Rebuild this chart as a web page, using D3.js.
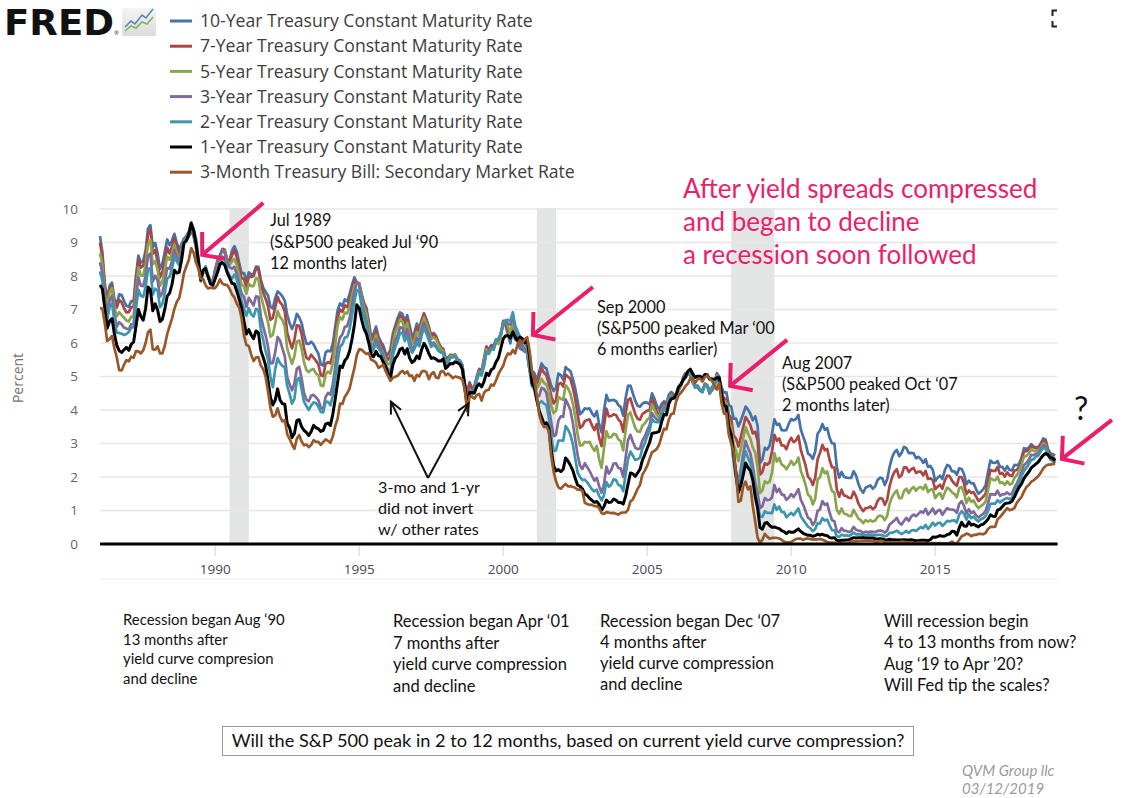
<!DOCTYPE html>
<html>
<head>
<meta charset="utf-8">
<script src="https://cdn.jsdelivr.net/npm/d3@7"></script>
<style>
  html, body { margin: 0; padding: 0; background: #fff; }
  svg { display: block; }
</style>
</head>
<body>
<div id="chart"></div>
<script>
// ---------------- DATA (monthly, Jan 1986 .. Mar 2019) ----------------
const startYear = 1986;

const seriesNames = [
  "10-Year Treasury Constant Maturity Rate",
  "7-Year Treasury Constant Maturity Rate",
  "5-Year Treasury Constant Maturity Rate",
  "3-Year Treasury Constant Maturity Rate",
  "2-Year Treasury Constant Maturity Rate",
  "1-Year Treasury Constant Maturity Rate",
  "3-Month Treasury Bill: Secondary Market Rate"
];
const seriesColors = ["#4572a7", "#aa4643", "#89a54e", "#80699b", "#3d96ae", "#000000", "#98592a"];

const gs10 = [
9.19,8.70,7.78,7.30,7.71,7.80,7.30,7.17,7.45,7.43,7.25,7.11,
7.08,7.25,7.25,8.02,8.61,8.40,8.45,8.76,9.42,9.52,8.86,8.99,
8.67,8.21,8.37,8.72,9.09,8.92,9.06,9.26,8.98,8.80,8.96,9.11,
9.09,9.17,9.36,9.18,8.86,8.28,8.02,8.11,8.19,8.01,7.87,7.84,
8.21,8.47,8.59,8.79,8.76,8.48,8.47,8.75,8.89,8.72,8.39,8.08,
8.09,7.85,8.11,8.04,8.07,8.28,8.27,7.90,7.65,7.53,7.42,7.09,
7.03,7.34,7.54,7.48,7.39,7.26,6.84,6.59,6.42,6.59,6.87,6.77,
6.60,6.26,5.98,5.97,6.04,5.96,5.81,5.68,5.36,5.33,5.72,5.77,
5.75,5.97,6.48,6.97,7.18,7.10,7.30,7.24,7.46,7.74,7.96,7.81,
7.78,7.47,7.20,7.06,6.63,6.17,6.28,6.49,6.20,6.04,5.93,5.71,
5.65,5.81,6.27,6.51,6.74,6.91,6.87,6.64,6.83,6.53,6.20,6.30,
6.58,6.42,6.69,6.89,6.71,6.49,6.22,6.30,6.21,6.03,5.88,5.81,
5.54,5.57,5.65,5.64,5.65,5.50,5.46,5.34,4.81,4.53,4.83,4.65,
4.72,5.00,5.23,5.18,5.54,5.90,5.79,5.94,5.92,6.11,6.03,6.28,
6.66,6.52,6.26,5.99,6.44,6.10,6.05,5.83,5.80,5.74,5.72,5.24,
5.16,5.10,4.89,5.14,5.39,5.28,5.24,4.97,4.73,4.57,4.65,5.09,
5.04,4.91,5.28,5.21,5.16,4.93,4.65,4.26,3.87,3.94,4.05,4.03,
4.05,3.90,3.81,3.96,3.57,3.33,3.98,4.45,4.27,4.29,4.30,4.27,
4.15,4.08,3.83,4.35,4.72,4.73,4.50,4.28,4.13,4.10,4.19,4.23,
4.22,4.17,4.50,4.34,4.14,4.00,4.18,4.26,4.20,4.46,4.54,4.47,
4.42,4.57,4.72,4.99,5.11,5.11,5.09,4.88,4.72,4.73,4.60,4.56,
4.76,4.72,4.56,4.69,4.75,5.10,5.00,4.67,4.52,4.53,4.15,4.10,
3.74,3.74,3.51,3.68,3.88,4.10,4.01,3.89,3.69,3.81,3.53,2.42,
2.52,2.87,2.82,2.93,3.29,3.72,3.56,3.59,3.40,3.39,3.40,3.59,
3.73,3.69,3.73,3.85,3.42,3.20,3.01,2.70,2.65,2.54,2.76,3.29,
3.39,3.58,3.41,3.46,3.17,3.00,3.00,2.30,1.98,2.15,2.01,1.98,
1.97,1.97,2.17,2.05,1.80,1.62,1.53,1.68,1.72,1.75,1.65,1.72,
1.91,1.98,1.96,1.76,1.93,2.30,2.58,2.74,2.81,2.62,2.72,2.90,
2.86,2.71,2.72,2.71,2.56,2.60,2.54,2.42,2.53,2.30,2.33,2.21,
1.88,1.98,2.04,1.94,2.20,2.36,2.32,2.17,2.17,2.07,2.26,2.24,
2.09,1.78,1.89,1.81,1.81,1.64,1.50,1.56,1.63,1.76,2.14,2.49,
2.43,2.42,2.48,2.30,2.30,2.19,2.32,2.21,2.20,2.36,2.35,2.40,
2.58,2.86,2.84,2.87,2.98,2.91,2.89,2.89,3.00,3.15,3.12,2.83,
2.71,2.68,2.64];

const gs7 = [
9.00,8.55,7.66,7.20,7.62,7.70,7.21,7.06,7.28,7.22,7.04,6.91,
6.92,7.07,7.07,7.86,8.49,8.25,8.30,8.61,9.25,9.37,8.66,8.78,
8.41,7.96,8.12,8.47,8.85,8.67,8.87,9.13,8.84,8.64,8.87,9.12,
9.15,9.23,9.43,9.23,8.89,8.28,7.94,8.09,8.18,7.97,7.83,7.82,
8.18,8.46,8.60,8.81,8.78,8.48,8.42,8.62,8.77,8.57,8.23,7.93,
7.92,7.66,7.98,7.97,8.00,8.22,8.20,7.77,7.51,7.32,7.10,6.69,
6.75,7.06,7.38,7.21,7.13,6.93,6.32,6.06,5.84,6.09,6.53,6.51,
6.27,5.85,5.56,5.51,5.65,5.56,5.47,5.36,5.04,5.01,5.38,5.43,
5.39,5.67,6.21,6.76,7.00,6.93,7.12,7.07,7.27,7.56,7.85,7.79,
7.78,7.42,7.13,6.96,6.54,6.07,6.16,6.36,6.11,5.97,5.83,5.64,
5.50,5.60,6.13,6.42,6.61,6.81,6.77,6.52,6.73,6.41,6.09,6.20,
6.47,6.34,6.66,6.87,6.68,6.46,6.19,6.27,6.18,6.00,5.86,5.83,
5.51,5.56,5.63,5.63,5.65,5.51,5.48,5.32,4.73,4.48,4.78,4.62,
4.67,4.97,5.20,5.14,5.51,5.87,5.76,5.92,5.87,6.07,6.00,6.24,
6.63,6.61,6.39,6.17,6.58,6.24,6.14,5.97,5.89,5.78,5.70,5.19,
5.02,4.97,4.77,5.00,5.25,5.11,5.04,4.79,4.41,4.20,4.29,4.77,
4.81,4.70,5.06,4.99,4.93,4.67,4.33,3.87,3.46,3.52,3.67,3.70,
3.72,3.54,3.40,3.58,3.16,2.92,3.53,4.04,3.81,3.82,3.87,3.85,
3.72,3.64,3.35,3.90,4.30,4.35,4.11,3.88,3.74,3.71,3.88,3.93,
3.98,3.99,4.33,4.16,3.94,3.86,4.06,4.18,4.08,4.38,4.49,4.43,
4.38,4.59,4.72,4.94,5.05,5.06,5.05,4.83,4.68,4.69,4.58,4.55,
4.75,4.71,4.50,4.63,4.69,5.05,4.93,4.53,4.33,4.33,3.87,3.75,
3.24,3.15,2.91,3.18,3.49,3.79,3.68,3.55,3.30,3.35,3.09,2.07,
2.15,2.41,2.37,2.43,2.76,3.26,3.08,3.15,2.94,2.94,2.83,3.04,
3.17,3.04,3.09,3.23,2.81,2.58,2.34,2.01,1.93,1.76,1.98,2.53,
2.72,2.96,2.80,2.84,2.51,2.29,2.28,1.63,1.41,1.62,1.45,1.43,
1.38,1.37,1.56,1.43,1.21,1.08,0.98,1.07,1.08,1.12,1.04,1.10,
1.29,1.37,1.35,1.17,1.32,1.73,1.99,2.15,2.23,1.99,2.05,2.29,
2.29,2.15,2.23,2.27,2.12,2.16,2.16,2.05,2.18,1.94,1.96,1.91,
1.64,1.71,1.77,1.65,1.89,2.04,2.03,1.89,1.80,1.74,2.00,2.00,
1.81,1.49,1.60,1.52,1.55,1.42,1.29,1.34,1.41,1.50,1.87,2.21,
2.18,2.18,2.30,2.09,2.12,2.01,2.14,2.05,2.03,2.19,2.21,2.30,
2.49,2.76,2.77,2.81,2.92,2.88,2.86,2.85,2.98,3.09,3.06,2.78,
2.63,2.59,2.53];

const gs5 = [
8.68,8.34,7.46,7.05,7.52,7.64,7.06,6.80,6.92,6.83,6.76,6.67,
6.64,6.79,6.79,7.57,8.26,8.02,8.01,8.32,8.94,9.08,8.35,8.45,
8.18,7.71,7.83,8.19,8.58,8.49,8.66,8.94,8.69,8.51,8.79,9.09,
9.15,9.27,9.51,9.30,8.91,8.29,7.83,8.09,8.17,7.97,7.81,7.75,
8.12,8.42,8.60,8.77,8.74,8.43,8.33,8.44,8.51,8.33,8.02,7.73,
7.70,7.47,7.77,7.70,7.70,7.94,7.91,7.43,7.14,6.87,6.62,6.19,
6.24,6.58,6.95,6.78,6.69,6.48,5.84,5.60,5.38,5.60,6.04,6.08,
5.83,5.43,5.19,5.13,5.20,5.22,5.09,5.03,4.73,4.71,5.06,5.15,
5.09,5.40,5.94,6.52,6.78,6.70,6.91,6.88,7.08,7.40,7.72,7.78,
7.76,7.37,7.05,6.86,6.41,5.93,6.01,6.24,6.00,5.86,5.69,5.51,
5.36,5.38,5.97,6.30,6.48,6.69,6.64,6.39,6.60,6.27,5.97,6.07,
6.33,6.20,6.54,6.76,6.57,6.38,6.12,6.16,6.11,5.93,5.80,5.77,
5.42,5.49,5.61,5.61,5.63,5.52,5.46,5.27,4.62,4.18,4.54,4.45,
4.60,4.91,5.14,5.08,5.44,5.81,5.68,5.84,5.80,6.03,5.97,6.19,
6.58,6.68,6.50,6.26,6.69,6.30,6.18,6.06,5.93,5.78,5.70,5.17,
4.86,4.89,4.64,4.76,4.93,4.81,4.76,4.57,4.12,3.91,3.97,4.39,
4.34,4.30,4.74,4.65,4.49,4.19,3.81,3.29,2.94,2.95,3.05,3.03,
3.05,2.90,2.78,2.93,2.52,2.27,2.87,3.37,3.18,3.19,3.29,3.27,
3.12,3.07,2.79,3.39,3.85,3.93,3.69,3.47,3.36,3.35,3.53,3.60,
3.71,3.77,4.17,4.00,3.85,3.77,3.98,4.12,4.01,4.33,4.45,4.39,
4.35,4.57,4.72,4.90,5.00,5.07,5.04,4.82,4.67,4.69,4.58,4.53,
4.75,4.71,4.48,4.59,4.67,5.03,4.88,4.43,4.20,4.20,3.67,3.49,
2.98,2.78,2.48,2.84,3.15,3.49,3.30,3.14,2.88,2.73,2.29,1.52,
1.60,1.87,1.82,1.86,2.13,2.71,2.46,2.57,2.37,2.33,2.23,2.34,
2.48,2.36,2.43,2.58,2.18,2.00,1.76,1.47,1.41,1.18,1.35,1.93,
1.99,2.26,2.11,2.17,1.84,1.58,1.54,1.02,0.90,1.06,0.91,0.89,
0.84,0.83,1.02,0.89,0.76,0.71,0.62,0.71,0.67,0.71,0.67,0.70,
0.81,0.85,0.82,0.71,0.84,1.20,1.40,1.52,1.60,1.37,1.37,1.58,
1.65,1.52,1.64,1.70,1.59,1.68,1.70,1.63,1.77,1.55,1.62,1.64,
1.37,1.47,1.52,1.35,1.54,1.68,1.63,1.54,1.49,1.39,1.67,1.70,
1.52,1.22,1.38,1.26,1.30,1.17,1.07,1.13,1.18,1.27,1.60,1.96,
1.92,1.90,2.01,1.82,1.84,1.77,1.87,1.78,1.80,1.98,2.05,2.18,
2.38,2.60,2.63,2.70,2.82,2.78,2.78,2.77,2.89,3.00,2.95,2.68,
2.54,2.49,2.42];

const gs3 = [
8.41,8.10,7.30,6.86,7.27,7.41,6.86,6.49,6.62,6.56,6.46,6.43,
6.41,6.56,6.58,7.32,7.97,7.71,7.70,8.00,8.60,8.67,7.84,8.01,
7.87,7.38,7.50,7.83,8.24,8.22,8.44,8.77,8.57,8.43,8.72,9.11,
9.20,9.32,9.61,9.40,9.05,8.41,7.86,8.17,8.22,7.98,7.80,7.77,
8.13,8.39,8.63,8.78,8.69,8.40,8.26,8.22,8.27,8.07,7.74,7.47,
7.38,7.08,7.35,7.23,7.12,7.39,7.38,6.80,6.50,6.23,5.90,5.39,
5.40,5.72,6.18,6.08,5.84,5.60,4.99,4.77,4.59,4.79,5.23,5.29,
4.95,4.51,4.31,4.26,4.43,4.45,4.38,4.29,4.07,4.02,4.39,4.51,
4.46,4.77,5.29,5.88,6.16,6.26,6.48,6.50,6.74,7.11,7.53,7.81,
7.73,7.25,6.89,6.66,6.23,5.81,5.90,6.11,5.96,5.83,5.61,5.33,
5.21,5.13,5.76,6.07,6.22,6.47,6.45,6.21,6.41,6.08,5.82,5.91,
6.16,6.03,6.38,6.61,6.42,6.24,5.94,6.02,5.91,5.78,5.74,5.72,
5.37,5.42,5.56,5.58,5.59,5.47,5.44,5.26,4.59,4.19,4.57,4.48,
4.61,4.93,5.08,5.06,5.32,5.73,5.69,5.85,5.84,6.07,6.09,6.27,
6.57,6.66,6.57,6.55,6.81,6.45,6.25,6.07,5.93,5.81,5.71,5.18,
4.71,4.64,4.37,4.42,4.66,4.63,4.52,4.07,3.64,3.22,3.26,3.69,
3.81,3.80,4.32,4.17,4.00,3.62,3.14,2.66,2.34,2.24,2.41,2.29,
2.18,2.03,1.89,1.97,1.72,1.53,1.78,2.31,2.10,2.21,2.40,2.41,
2.27,2.25,2.00,2.57,3.10,3.26,3.05,2.88,2.83,2.85,3.09,3.21,
3.39,3.54,3.91,3.79,3.72,3.69,3.91,4.08,3.96,4.29,4.43,4.39,
4.35,4.64,4.74,4.89,4.97,5.09,5.07,4.85,4.69,4.72,4.60,4.58,
4.79,4.75,4.51,4.60,4.69,5.00,4.82,4.34,4.06,4.01,3.45,3.24,
2.51,2.19,1.80,2.23,2.69,3.08,2.87,2.70,2.32,1.86,1.51,1.07,
1.13,1.37,1.31,1.32,1.39,1.76,1.55,1.65,1.48,1.46,1.32,1.38,
1.49,1.40,1.51,1.64,1.32,1.17,0.98,0.78,0.74,0.57,0.67,0.99,
1.03,1.28,1.17,1.21,0.94,0.71,0.68,0.38,0.35,0.47,0.39,0.39,
0.36,0.38,0.51,0.43,0.39,0.39,0.33,0.37,0.34,0.37,0.36,0.35,
0.39,0.40,0.39,0.34,0.40,0.58,0.64,0.70,0.78,0.63,0.58,0.69,
0.78,0.69,0.82,0.88,0.83,0.90,0.97,0.93,1.05,0.88,0.96,1.06,
0.90,0.99,1.02,0.87,0.98,1.07,1.03,1.03,1.01,0.93,1.20,1.28,
1.14,0.90,1.04,0.92,0.97,0.86,0.79,0.85,0.90,0.99,1.22,1.49,
1.48,1.47,1.59,1.44,1.48,1.49,1.54,1.48,1.51,1.68,1.81,1.96,
2.15,2.36,2.42,2.52,2.66,2.65,2.70,2.71,2.84,2.94,2.91,2.68,
2.52,2.48,2.42];

const gs2 = [
8.14,7.86,7.10,6.68,7.08,7.18,6.67,6.30,6.30,6.28,6.24,6.27,
6.33,6.45,6.48,7.03,7.59,7.41,7.38,7.68,8.21,8.23,7.45,7.62,
7.56,7.07,7.17,7.50,7.92,7.98,8.23,8.57,8.44,8.32,8.62,9.06,
9.15,9.20,9.53,9.39,9.13,8.55,7.98,8.15,8.29,8.04,7.85,7.79,
7.95,8.16,8.37,8.58,8.52,8.17,8.00,7.92,8.04,7.90,7.58,7.26,
7.01,6.82,7.04,6.86,6.79,7.02,6.98,6.42,6.09,5.76,5.50,5.00,
4.68,5.22,5.55,5.40,5.32,5.27,4.71,4.48,4.19,4.33,4.89,4.96,
4.63,4.25,4.12,4.00,4.14,4.23,4.20,4.10,3.94,3.93,4.25,4.24,
4.14,4.42,4.96,5.44,5.89,5.96,6.16,6.18,6.41,6.82,7.24,7.59,
7.54,7.11,6.76,6.54,6.13,5.70,5.81,5.99,5.84,5.75,5.50,5.24,
5.08,5.04,5.63,5.87,6.05,6.30,6.30,6.06,6.21,5.91,5.71,5.82,
6.01,5.90,6.22,6.45,6.28,6.09,5.89,5.94,5.88,5.77,5.71,5.72,
5.38,5.43,5.57,5.58,5.61,5.52,5.46,5.27,4.62,4.18,4.57,4.48,
4.61,4.90,5.11,5.03,5.33,5.70,5.68,5.84,5.80,6.10,6.13,6.28,
6.55,6.68,6.69,6.66,6.92,6.52,6.35,6.18,6.13,5.98,5.86,5.27,
4.73,4.61,4.28,4.19,4.26,4.19,4.15,3.78,3.24,2.78,2.79,3.09,
3.09,3.08,3.52,3.42,3.26,2.99,2.56,2.13,2.00,1.91,1.92,1.84,
1.74,1.63,1.57,1.62,1.43,1.30,1.45,1.85,1.71,1.77,1.93,1.91,
1.76,1.74,1.58,2.07,2.53,2.76,2.64,2.51,2.53,2.58,2.85,3.01,
3.22,3.38,3.73,3.65,3.64,3.64,3.87,4.04,3.95,4.27,4.42,4.40,
4.40,4.67,4.73,4.89,4.97,5.12,5.04,4.82,4.67,4.69,4.58,4.53,
4.76,4.72,4.56,4.67,4.77,4.96,4.82,4.34,4.06,3.98,3.35,3.12,
2.48,1.97,1.62,2.05,2.45,2.77,2.57,2.42,2.08,1.61,1.21,0.82,
0.81,0.98,0.93,0.93,0.92,1.18,1.02,1.12,0.96,0.95,0.80,0.87,
0.93,0.86,0.96,1.06,0.83,0.72,0.62,0.52,0.47,0.38,0.45,0.62,
0.61,0.77,0.70,0.73,0.56,0.41,0.41,0.23,0.21,0.28,0.25,0.26,
0.24,0.28,0.34,0.29,0.29,0.29,0.25,0.27,0.26,0.28,0.27,0.26,
0.27,0.27,0.26,0.23,0.25,0.33,0.34,0.36,0.40,0.34,0.30,0.34,
0.39,0.33,0.40,0.42,0.39,0.45,0.51,0.47,0.57,0.45,0.53,0.64,
0.55,0.62,0.64,0.54,0.61,0.69,0.67,0.70,0.71,0.64,0.88,0.98,
0.90,0.73,0.88,0.77,0.82,0.73,0.67,0.74,0.77,0.84,0.98,1.20,
1.21,1.20,1.31,1.24,1.30,1.34,1.37,1.34,1.38,1.55,1.70,1.84,
2.03,2.18,2.28,2.38,2.51,2.53,2.61,2.64,2.77,2.86,2.86,2.68,
2.54,2.50,2.47];

const gs1 = [
7.73,7.61,7.03,6.44,6.65,6.73,6.27,5.93,5.77,5.72,5.80,5.87,
5.78,5.96,6.03,6.50,7.00,6.80,6.68,7.03,7.67,7.59,6.96,7.17,
6.99,6.64,6.71,7.01,7.40,7.49,7.75,8.17,8.09,8.11,8.48,8.99,
9.05,9.25,9.57,9.36,8.98,8.44,7.89,8.18,8.22,7.99,7.77,7.72,
7.92,8.11,8.35,8.40,8.32,8.10,7.94,7.78,7.76,7.55,7.31,7.05,
6.64,6.27,6.40,6.24,6.13,6.36,6.31,5.78,5.57,5.33,4.89,4.38,
4.15,4.29,4.63,4.30,4.19,4.17,3.60,3.47,3.18,3.30,3.68,3.71,
3.50,3.39,3.33,3.24,3.36,3.54,3.47,3.44,3.36,3.39,3.58,3.61,
3.54,3.87,4.32,4.82,5.31,5.27,5.48,5.56,5.76,6.11,6.54,7.14,
7.05,6.70,6.43,6.27,6.00,5.64,5.59,5.75,5.62,5.59,5.43,5.31,
5.09,4.94,5.34,5.54,5.64,5.81,5.85,5.67,5.83,5.55,5.42,5.47,
5.61,5.53,5.80,5.99,5.87,5.69,5.54,5.56,5.52,5.46,5.46,5.53,
5.24,5.31,5.39,5.38,5.44,5.41,5.36,5.21,4.71,4.12,4.53,4.52,
4.51,4.70,4.78,4.69,4.85,5.10,5.03,5.20,5.25,5.43,5.55,5.84,
6.12,6.22,6.22,6.15,6.33,6.17,6.08,6.18,6.13,6.01,6.09,5.60,
4.81,4.68,4.30,3.98,3.78,3.58,3.62,3.47,2.82,2.33,2.18,2.22,
2.16,2.23,2.57,2.48,2.35,2.20,1.96,1.76,1.72,1.65,1.49,1.45,
1.36,1.30,1.24,1.27,1.18,1.01,1.12,1.31,1.24,1.25,1.34,1.31,
1.24,1.24,1.19,1.43,1.78,2.12,2.10,2.02,2.12,2.23,2.50,2.67,
2.86,3.03,3.30,3.32,3.33,3.36,3.64,3.87,3.85,4.18,4.33,4.35,
4.45,4.68,4.77,4.90,5.00,5.16,5.22,5.08,4.97,5.01,5.01,4.94,
5.06,5.05,4.92,4.93,4.91,4.96,4.96,4.47,4.14,4.10,3.50,3.26,
2.71,2.05,1.54,1.74,2.06,2.42,2.28,2.18,1.91,1.42,1.07,0.49,
0.44,0.62,0.64,0.55,0.50,0.51,0.48,0.46,0.40,0.37,0.31,0.37,
0.35,0.35,0.40,0.45,0.37,0.32,0.29,0.26,0.26,0.23,0.25,0.29,
0.27,0.29,0.26,0.25,0.19,0.18,0.19,0.11,0.10,0.11,0.11,0.12,
0.12,0.16,0.19,0.18,0.19,0.19,0.19,0.18,0.18,0.18,0.18,0.16,
0.15,0.16,0.15,0.12,0.12,0.14,0.12,0.13,0.12,0.12,0.12,0.13,
0.12,0.12,0.13,0.11,0.10,0.10,0.11,0.11,0.11,0.10,0.13,0.21,
0.20,0.22,0.25,0.23,0.24,0.28,0.30,0.38,0.37,0.26,0.48,0.65,
0.54,0.53,0.66,0.56,0.59,0.55,0.51,0.57,0.59,0.66,0.74,0.87,
0.83,0.82,1.01,1.04,1.12,1.20,1.22,1.23,1.28,1.40,1.56,1.70,
1.80,1.96,2.06,2.15,2.27,2.33,2.39,2.45,2.56,2.65,2.70,2.66,
2.58,2.55,2.49];

const tb3 = [
7.04,7.03,6.59,6.06,6.12,6.21,5.84,5.57,5.19,5.18,5.35,5.49,
5.45,5.59,5.56,5.76,5.75,5.69,5.78,6.00,6.32,6.40,5.81,5.80,
5.90,5.69,5.69,5.92,6.27,6.50,6.73,7.02,7.23,7.34,7.68,8.09,
8.29,8.48,8.83,8.70,8.40,8.22,7.92,7.91,7.72,7.63,7.65,7.64,
7.64,7.74,7.90,7.77,7.74,7.73,7.62,7.45,7.36,7.17,7.06,6.74,
6.22,5.94,5.91,5.65,5.46,5.57,5.58,5.33,5.22,4.99,4.56,4.07,
3.80,3.84,4.05,3.81,3.66,3.70,3.28,3.14,2.97,2.84,3.14,3.25,
3.06,2.95,2.97,2.89,2.96,3.10,3.05,3.05,2.96,3.04,3.12,3.08,
3.02,3.21,3.52,3.74,4.19,4.18,4.39,4.50,4.64,4.96,5.25,5.64,
5.81,5.80,5.73,5.67,5.70,5.50,5.47,5.41,5.26,5.30,5.35,5.16,
5.02,4.87,4.96,4.99,5.02,5.11,5.17,5.09,5.15,5.01,5.03,4.87,
5.05,5.00,5.14,5.17,5.13,4.92,5.07,5.13,4.97,4.95,5.15,5.16,
5.04,5.09,5.03,4.95,5.00,4.98,4.96,4.90,4.61,3.96,4.41,4.39,
4.34,4.45,4.48,4.28,4.51,4.59,4.60,4.76,4.73,4.88,5.07,5.20,
5.32,5.55,5.69,5.66,5.79,5.69,5.96,6.09,6.00,6.11,6.17,5.77,
5.15,4.88,4.42,3.87,3.62,3.49,3.51,3.36,2.64,2.16,1.87,1.69,
1.65,1.73,1.79,1.72,1.73,1.70,1.68,1.62,1.63,1.58,1.23,1.19,
1.17,1.17,1.13,1.13,1.07,0.92,0.90,0.95,0.94,0.92,0.93,0.90,
0.88,0.93,0.94,0.94,1.02,1.27,1.33,1.48,1.65,1.76,2.07,2.19,
2.33,2.54,2.74,2.78,2.84,2.97,3.22,3.44,3.42,3.71,3.88,3.89,
4.24,4.43,4.51,4.60,4.72,4.79,4.95,4.96,4.81,4.92,4.94,4.85,
4.98,5.03,4.94,4.87,4.73,4.61,4.82,4.20,3.89,3.90,3.27,3.00,
2.75,2.12,1.26,1.29,1.73,1.86,1.63,1.72,1.13,0.67,0.19,0.03,
0.13,0.30,0.22,0.16,0.18,0.18,0.18,0.17,0.12,0.07,0.05,0.05,
0.06,0.11,0.15,0.16,0.16,0.12,0.16,0.16,0.15,0.13,0.14,0.14,
0.15,0.13,0.10,0.06,0.04,0.04,0.04,0.02,0.01,0.02,0.01,0.01,
0.03,0.09,0.08,0.08,0.09,0.09,0.10,0.10,0.11,0.10,0.09,0.07,
0.07,0.10,0.09,0.06,0.04,0.05,0.04,0.04,0.02,0.05,0.07,0.07,
0.04,0.05,0.05,0.03,0.03,0.04,0.03,0.03,0.02,0.02,0.02,0.03,
0.03,0.02,0.03,0.02,0.02,0.02,0.03,0.07,0.02,0.02,0.12,0.23,
0.26,0.31,0.29,0.23,0.27,0.27,0.30,0.30,0.29,0.33,0.45,0.51,
0.51,0.52,0.74,0.80,0.89,0.98,1.07,1.01,1.03,1.07,1.23,1.32,
1.41,1.57,1.70,1.76,1.86,1.90,1.96,2.03,2.13,2.25,2.33,2.37,
2.37,2.39,2.40];

const seriesValues = [gs10, gs7, gs5, gs3, gs2, gs1, tb3];

// recession periods (peak month, trough month) in decimal years
const recessionStart = [1990.5, 2001 + 2/12, 2007 + 11/12];
const recessionEnd   = [1991 + 2/12, 2001 + 10/12, 2009 + 5/12];

const yTicks = [0, 1, 2, 3, 4, 5, 6, 7, 8, 9, 10];
const xTicks = [1990, 1995, 2000, 2005, 2010, 2015];

// ---------------- DRAWING ----------------
const W = 1123, H = 798;
const svg = d3.select("#chart").append("svg")
  .attr("width", W).attr("height", H)
  .style("background", "#fff");

const x = d3.scaleLinear().domain([1986, 2019.25]).range([100, 1057.6]);
const y = d3.scaleLinear().domain([0, 10]).range([544, 209]);

const FONT_UI = "'Open Sans', 'DejaVu Sans', sans-serif";
const FONT_NOTE = "Lato, 'Open Sans', sans-serif";
const PINK = "#ea1f6c";

// FRED logo
const logo = svg.append("g");
logo.append("text").attr("x", 4).attr("y", 35)
  .attr("font-family", "'DejaVu Sans', sans-serif").attr("font-weight", "bold")
  .attr("font-size", 36).attr("textLength", 110).attr("lengthAdjust", "spacingAndGlyphs")
  .attr("fill", "#111").text("FRED");
logo.append("text").attr("x", 114).attr("y", 35).attr("font-size", 6)
  .attr("font-family", FONT_UI).attr("fill", "#333").text("®");
const grad = svg.append("defs").append("linearGradient").attr("id", "lg")
  .attr("x1", 0).attr("y1", 0).attr("x2", 0).attr("y2", 1);
grad.append("stop").attr("offset", "0%").attr("stop-color", "#f4f4f4");
grad.append("stop").attr("offset", "100%").attr("stop-color", "#dcdcdc");
logo.append("rect").attr("x", 122).attr("y", 8).attr("width", 34).attr("height", 28)
  .attr("rx", 2).attr("fill", "url(#lg)");
logo.append("path").attr("d", "M125,27 L131,21 L135,24 L142,15 L146,18 L153,9")
  .attr("fill", "none").attr("stroke", "#5b86b8").attr("stroke-width", 1.6);
logo.append("path").attr("d", "M125,31 L131,26 L136,28 L142,22 L147,24 L153,17")
  .attr("fill", "none").attr("stroke", "#7fb25a").attr("stroke-width", 1.6);

// fullscreen icon (top right)
svg.append("path").attr("d", "M1052.5,16 V10.5 H1057 M1052.5,21 V26.5 H1057")
  .attr("fill", "none").attr("stroke", "#222").attr("stroke-width", 2);

// Legend
const legend = svg.append("g");
seriesNames.forEach((name, i) => {
  const ly = 21 + i * 25.2;
  legend.append("line").attr("x1", 170).attr("x2", 192).attr("y1", ly).attr("y2", ly)
    .attr("stroke", seriesColors[i]).attr("stroke-width", 3);
  legend.append("text").attr("x", 200).attr("y", ly).attr("dy", "0.35em")
    .attr("font-family", FONT_UI).attr("font-size", 17.6).attr("fill", "#3d3d3d")
    .text(name);
});

// Recession bands
svg.append("g").selectAll("rect").data(recessionStart).join("rect")
  .attr("x", (d) => x(d))
  .attr("width", (d, i) => x(recessionEnd[i]) - x(d))
  .attr("y", y(10) - 1)
  .attr("height", y(0) - y(10) + 1)
  .attr("fill", "#e3e4e4");

// Grid lines
svg.append("g").selectAll("line").data(yTicks.filter(d => d > 0)).join("line")
  .attr("x1", x(1986)).attr("x2", x(2019.25))
  .attr("y1", d => y(d)).attr("y2", d => y(d))
  .attr("stroke", "#e6e6e6").attr("stroke-width", 1.5);

// Y tick labels
svg.append("g").selectAll("text").data(yTicks).join("text")
  .attr("x", 78).attr("y", d => y(d)).attr("dy", "0.35em")
  .attr("text-anchor", "end").attr("font-family", FONT_UI).attr("font-size", 13.5)
  .attr("fill", "#6b6360").text(d => d);

// Y axis title
svg.append("text").attr("transform", "translate(23,378) rotate(-90)")
  .attr("text-anchor", "middle").attr("font-family", FONT_UI).attr("font-size", 14)
  .attr("fill", "#7a6f68").text("Percent");

// Series lines
const line = d3.line()
  .x((d, i) => x(startYear + i / 12))
  .y(d => y(d))
  .curve(d3.curveLinear);
const linesG = svg.append("g");
seriesValues.forEach((vals, i) => {
  linesG.append("path").datum(vals)
    .attr("d", line)
    .attr("fill", "none")
    .attr("stroke", seriesColors[i])
    .attr("stroke-width", i === 5 ? 3 : 2.7)
    .attr("stroke-linejoin", "round");
});

// Zero line
svg.append("line").attr("x1", x(1986)).attr("x2", x(2019.25))
  .attr("y1", y(0)).attr("y2", y(0)).attr("stroke", "#000").attr("stroke-width", 3);

// X axis ticks + labels
const xAxisG = svg.append("g");
xAxisG.selectAll("line").data(xTicks).join("line")
  .attr("x1", d => x(d)).attr("x2", d => x(d))
  .attr("y1", y(0) + 2).attr("y2", y(0) + 12)
  .attr("stroke", "#ccd6eb").attr("stroke-width", 1);
xAxisG.selectAll("text").data(xTicks).join("text")
  .attr("x", d => x(d)).attr("y", 574)
  .attr("text-anchor", "middle").attr("font-family", FONT_UI).attr("font-size", 13.5)
  .attr("fill", "#444a55").text(d => d);
svg.append("line").attr("x1", x(1986)).attr("x2", x(2019.25))
  .attr("y1", 579).attr("y2", 579).attr("stroke", "#eeeeee").attr("stroke-width", 1);

// ---------------- ANNOTATIONS ----------------
function arrow(tx, ty, fx, fy, arm, halfAngle, color, width) {
  const ang = Math.atan2(fy - ty, fx - tx);
  const a1 = ang - halfAngle, a2 = ang + halfAngle;
  const g = svg.append("g");
  g.append("line").attr("x1", fx).attr("y1", fy).attr("x2", tx).attr("y2", ty)
    .attr("stroke", color).attr("stroke-width", width);
  g.append("path")
    .attr("d", `M${tx + arm * Math.cos(a1)},${ty + arm * Math.sin(a1)} L${tx},${ty} L${tx + arm * Math.cos(a2)},${ty + arm * Math.sin(a2)}`)
    .attr("fill", "none").attr("stroke", color).attr("stroke-width", width)
    .attr("stroke-linejoin", "miter").attr("stroke-linecap", "butt");
}

// pink arrows: tip in data coordinates, tail offset in px
const pinkArrowTips = [[1989.55, 8.63], [2001.03, 6.24], [2007.88, 4.72], [2019.4, 2.54]];
const pinkArrowTails = [[61, -52], [60, -48], [57, -46], [50, -39]];
pinkArrowTips.forEach((t, i) => {
  const tx = x(t[0]), ty = y(t[1]);
  arrow(tx, ty, tx + pinkArrowTails[i][0], ty + pinkArrowTails[i][1], 23, 0.87, PINK, 4);
});

function block(lines, x0, y0, dy, size, color, family, extra) {
  const t = svg.append("text").attr("font-family", family || FONT_NOTE)
    .attr("font-size", size).attr("fill", color || "#111");
  if (extra) extra(t);
  lines.forEach((s, i) => {
    t.append("tspan").attr("x", x0).attr("y", y0 + i * dy).text(s);
  });
  return t;
}

block(["Jul 1989", "(S&P500 peaked Jul \u201890", "12 months later)"], 270, 226, 21.5, 16.3);
block(["Sep 2000", "(S&P500 peaked Mar \u201800", "6 months earlier)"], 597, 313, 21, 16.3);
block(["Aug 2007", "(S&P500 peaked Oct \u201807", "2 months later)"], 782, 369, 21, 16.3);

block(["After yield spreads compressed", "and began to decline", "a recession soon followed"],
  683, 198, 33, 26, PINK);

svg.append("text").attr("x", 1074).attr("y", 420)
  .attr("font-family", FONT_NOTE).attr("font-size", 32).attr("fill", "#111").text("?");

// black arrows (did not invert)
const bx = 428, by = 478;
arrow(x(1996.1), y(4.25), bx, by, 13, 0.45, "#111", 2);
arrow(x(1998.8), y(4.2), bx, by, 13, 0.45, "#111", 2);
block(["3-mo and 1-yr", "did not invert", "w/ other rates"], 378, 493, 21, 16.2);

// bottom text blocks
block(["Recession began Aug \u201890", "13 months after", "yield curve compresion", "and decline"],
  123, 625, 19.5, 14.9);
block(["Recession began Apr \u201801", "7 months after", "yield curve compression", "and decline"],
  393, 627, 21.5, 16.5);
block(["Recession began Dec \u201807", "4 months after", "yield curve compression", "and decline"],
  600, 627, 21, 16.5);
block(["Will recession begin", "4 to 13 months from now?", "Aug \u201819 to Apr \u201920?", "Will Fed tip the scales?"],
  884, 627, 21.3, 16.5);

// question box
svg.append("rect").attr("x", 222.5).attr("y", 726.5).attr("width", 691).attr("height", 29)
  .attr("fill", "#fff").attr("stroke", "#9a9a9a").attr("stroke-width", 1);
svg.append("text").attr("x", 568).attr("y", 741).attr("dy", "0.35em")
  .attr("text-anchor", "middle").attr("font-family", FONT_NOTE).attr("font-size", 18.2)
  .attr("fill", "#111")
  .text("Will the S&P 500 peak in 2 to 12 months, based on current yield curve compression?");

block(["QVM Group llc", "03/12/2019"], 962, 776, 18, 15, "#9b9b9b", FONT_NOTE,
  t => t.attr("font-style", "italic"));
</script>
</body>
</html>
